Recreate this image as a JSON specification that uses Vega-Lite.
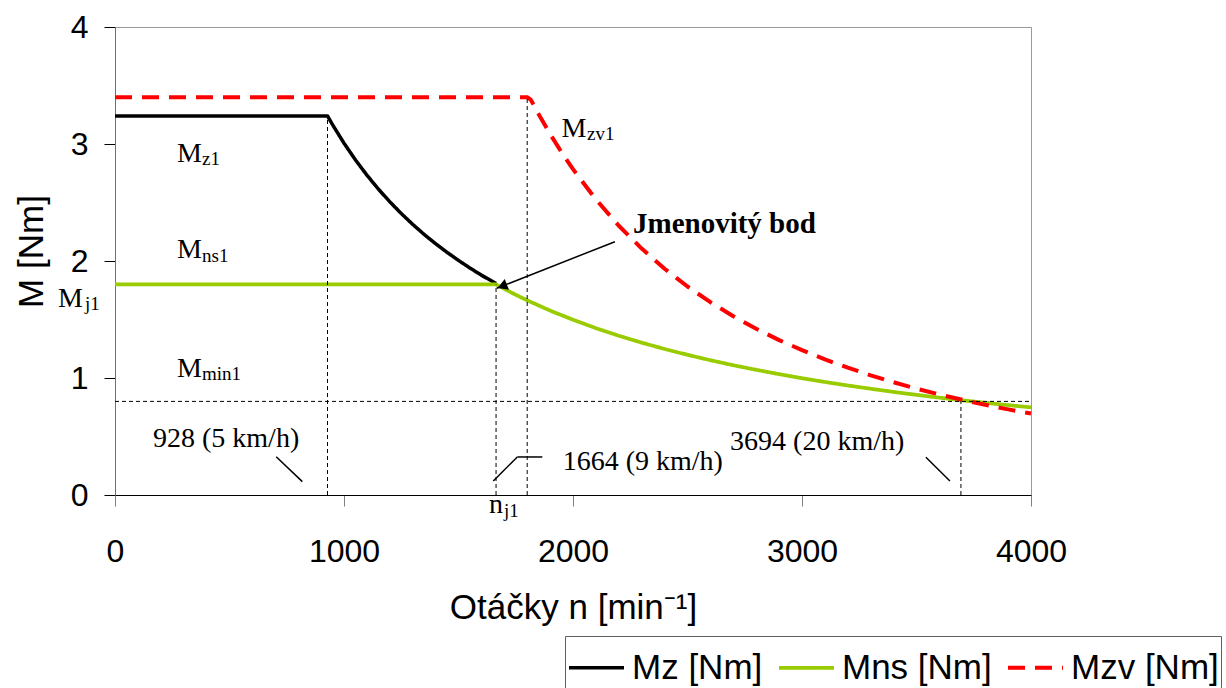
{
  "$schema": "https://vega.github.io/schema/vega-lite/v6.json",
  "width": 916,
  "height": 468,
  "autosize": {"type": "none"},
  "padding": {"left": 115, "top": 27, "right": 195, "bottom": 193},
  "background": "white",
  "config": {
    "view": {"stroke": "#9a9a9a", "strokeWidth": 1},
    "axis": {"grid": false},
    "axisX": {
      "tickCount": 5,
      "format": "d",
      "labelFont": "Liberation Sans",
      "labelFontSize": 32,
      "labelColor": "black",
      "labelBaseline": "alphabetic",
      "labelPadding": 55,
      "labelFlush": false,
      "labelOverlap": false,
      "tickSize": 11,
      "tickColor": "#808080",
      "domainColor": "black",
      "titleFont": "Liberation Sans",
      "titleFontSize": 35,
      "titleFontWeight": "normal",
      "titleColor": "black",
      "titleBaseline": "alphabetic",
      "titleX": 458,
      "titleY": 123
    },
    "axisY": {
      "tickCount": 5,
      "format": "d",
      "labelFont": "Liberation Sans",
      "labelFontSize": 32,
      "labelColor": "black",
      "labelPadding": 16,
      "labelFlush": false,
      "tickSize": 11,
      "tickColor": "black",
      "domainColor": "#707070",
      "titleFont": "Liberation Sans",
      "titleFontSize": 35,
      "titleFontWeight": "normal",
      "titleColor": "black",
      "titleBaseline": "middle",
      "titleAlign": "center",
      "titleX": -84,
      "titleY": 224
    }
  },
  "datasets": {
    "curves": [
      {"series": "Mz [Nm]", "n": 0, "M": 3.24},
      {"series": "Mz [Nm]", "n": 928, "M": 3.24},
      {"series": "Mz [Nm]", "n": 950, "M": 3.165},
      {"series": "Mz [Nm]", "n": 1000, "M": 3.007},
      {"series": "Mz [Nm]", "n": 1050, "M": 2.864},
      {"series": "Mz [Nm]", "n": 1100, "M": 2.734},
      {"series": "Mz [Nm]", "n": 1150, "M": 2.615},
      {"series": "Mz [Nm]", "n": 1200, "M": 2.506},
      {"series": "Mz [Nm]", "n": 1250, "M": 2.406},
      {"series": "Mz [Nm]", "n": 1300, "M": 2.313},
      {"series": "Mz [Nm]", "n": 1350, "M": 2.227},
      {"series": "Mz [Nm]", "n": 1400, "M": 2.148},
      {"series": "Mz [Nm]", "n": 1450, "M": 2.074},
      {"series": "Mz [Nm]", "n": 1500, "M": 2.005},
      {"series": "Mz [Nm]", "n": 1550, "M": 1.940},
      {"series": "Mz [Nm]", "n": 1600, "M": 1.879},
      {"series": "Mz [Nm]", "n": 1664, "M": 1.807},
      {"series": "Mns [Nm]", "n": 0, "M": 1.8},
      {"series": "Mns [Nm]", "n": 1664, "M": 1.8},
      {"series": "Mns [Nm]", "n": 1700, "M": 1.762},
      {"series": "Mns [Nm]", "n": 1750, "M": 1.711},
      {"series": "Mns [Nm]", "n": 1800, "M": 1.664},
      {"series": "Mns [Nm]", "n": 1900, "M": 1.576},
      {"series": "Mns [Nm]", "n": 2000, "M": 1.498},
      {"series": "Mns [Nm]", "n": 2100, "M": 1.426},
      {"series": "Mns [Nm]", "n": 2200, "M": 1.361},
      {"series": "Mns [Nm]", "n": 2300, "M": 1.302},
      {"series": "Mns [Nm]", "n": 2400, "M": 1.248},
      {"series": "Mns [Nm]", "n": 2500, "M": 1.198},
      {"series": "Mns [Nm]", "n": 2600, "M": 1.152},
      {"series": "Mns [Nm]", "n": 2700, "M": 1.109},
      {"series": "Mns [Nm]", "n": 2800, "M": 1.070},
      {"series": "Mns [Nm]", "n": 2900, "M": 1.033},
      {"series": "Mns [Nm]", "n": 3000, "M": 0.998},
      {"series": "Mns [Nm]", "n": 3100, "M": 0.966},
      {"series": "Mns [Nm]", "n": 3200, "M": 0.936},
      {"series": "Mns [Nm]", "n": 3300, "M": 0.908},
      {"series": "Mns [Nm]", "n": 3400, "M": 0.881},
      {"series": "Mns [Nm]", "n": 3500, "M": 0.856},
      {"series": "Mns [Nm]", "n": 3600, "M": 0.832},
      {"series": "Mns [Nm]", "n": 3700, "M": 0.809},
      {"series": "Mns [Nm]", "n": 3800, "M": 0.788},
      {"series": "Mns [Nm]", "n": 3900, "M": 0.768},
      {"series": "Mns [Nm]", "n": 4000, "M": 0.749},
      {"series": "Mzv [Nm]", "n": 0, "M": 3.4},
      {"series": "Mzv [Nm]", "n": 1800, "M": 3.4},
      {"series": "Mzv [Nm]", "n": 1815, "M": 3.38},
      {"series": "Mzv [Nm]", "n": 1830, "M": 3.33},
      {"series": "Mzv [Nm]", "n": 1850, "M": 3.255},
      {"series": "Mzv [Nm]", "n": 1900, "M": 3.086},
      {"series": "Mzv [Nm]", "n": 1950, "M": 2.929},
      {"series": "Mzv [Nm]", "n": 2000, "M": 2.785},
      {"series": "Mzv [Nm]", "n": 2100, "M": 2.526},
      {"series": "Mzv [Nm]", "n": 2200, "M": 2.301},
      {"series": "Mzv [Nm]", "n": 2300, "M": 2.106},
      {"series": "Mzv [Nm]", "n": 2400, "M": 1.934},
      {"series": "Mzv [Nm]", "n": 2500, "M": 1.782},
      {"series": "Mzv [Nm]", "n": 2600, "M": 1.648},
      {"series": "Mzv [Nm]", "n": 2700, "M": 1.528},
      {"series": "Mzv [Nm]", "n": 2800, "M": 1.421},
      {"series": "Mzv [Nm]", "n": 2900, "M": 1.324},
      {"series": "Mzv [Nm]", "n": 3000, "M": 1.238},
      {"series": "Mzv [Nm]", "n": 3100, "M": 1.159},
      {"series": "Mzv [Nm]", "n": 3200, "M": 1.088},
      {"series": "Mzv [Nm]", "n": 3300, "M": 1.023},
      {"series": "Mzv [Nm]", "n": 3400, "M": 0.964},
      {"series": "Mzv [Nm]", "n": 3500, "M": 0.909},
      {"series": "Mzv [Nm]", "n": 3600, "M": 0.859},
      {"series": "Mzv [Nm]", "n": 3700, "M": 0.814},
      {"series": "Mzv [Nm]", "n": 3800, "M": 0.771},
      {"series": "Mzv [Nm]", "n": 3900, "M": 0.732},
      {"series": "Mzv [Nm]", "n": 4000, "M": 0.696}
    ],
    "guides": [
      {"n": 928, "M": 0, "n2": 928, "M2": 3.24},
      {"n": 1664, "M": 0, "n2": 1664, "M2": 1.8},
      {"n": 1800, "M": 0, "n2": 1800, "M2": 3.4},
      {"n": 3694, "M": 0, "n2": 3694, "M2": 0.8},
      {"n": 0, "M": 0.8, "n2": 4000, "M2": 0.8}
    ],
    "pointers": [
      {"n": 704, "M": 0.327, "n2": 818, "M2": 0.114},
      {"n": 1652, "M": 0.12, "n2": 1757, "M2": 0.325},
      {"n": 1757, "M": 0.325, "n2": 1866, "M2": 0.325},
      {"n": 3541, "M": 0.322, "n2": 3646, "M2": 0.12},
      {"n": 2183, "M": 2.165, "n2": 1667, "M2": 1.767}
    ],
    "arrowhead": [
      {"n": 1691, "M": 1.785}
    ],
    "labels": [
      {"n": 271, "M": 2.846, "label": "M"},
      {"n": 271, "M": 2.023, "label": "M"},
      {"n": -249, "M": 1.604, "label": "M"},
      {"n": 271, "M": 1.011, "label": "M"},
      {"n": 1950, "M": 3.057, "label": "M"},
      {"n": 1633, "M": -0.154, "label": "n"},
      {"n": 166, "M": 0.413, "label": "928 (5 km/h)"},
      {"n": 1955, "M": 0.214, "label": "1664 (9 km/h)"},
      {"n": 2686, "M": 0.385, "label": "3694 (20 km/h)"}
    ],
    "subscripts": [
      {"n": 380, "M": 2.821, "label": "z1"},
      {"n": 380, "M": 1.991, "label": "ns1"},
      {"n": -131, "M": 1.581, "label": "j1"},
      {"n": 380, "M": 0.983, "label": "min1"},
      {"n": 2061, "M": 3.030, "label": "zv1"},
      {"n": 1699, "M": -0.188, "label": "j1"}
    ],
    "callout": [
      {"n": 2262, "M": 2.237, "label": "Jmenovitý bod"}
    ]
  },
  "layer": [
    {
      "data": {"name": "curves"},
      "mark": {"type": "line", "strokeCap": "butt", "strokeJoin": "round"},
      "encoding": {
        "x": {
          "field": "n",
          "type": "quantitative",
          "title": "Otáčky n [min⁻¹]",
          "scale": {"domain": [0, 4000], "nice": false, "zero": true}
        },
        "y": {
          "field": "M",
          "type": "quantitative",
          "title": "M [Nm]",
          "scale": {"domain": [0, 4], "nice": false}
        },
        "color": {
          "field": "series",
          "type": "nominal",
          "scale": {"domain": ["Mz [Nm]", "Mns [Nm]", "Mzv [Nm]"], "range": ["#000000", "#99CC00", "#FF0000"]},
          "legend": {
            "title": null,
            "orient": "none",
            "legendX": 450,
            "legendY": 609,
            "direction": "horizontal",
            "strokeColor": "#606060",
            "fillColor": "white",
            "padding": 2,
            "symbolType": "stroke",
            "symbolSize": 3025,
            "symbolStrokeWidth": 3,
            "labelFont": "Liberation Sans",
            "labelFontSize": 35,
            "labelColor": "black",
            "labelOffset": 6,
            "labelLimit": 0,
            "columnPadding": 8
          }
        },
        "strokeDash": {
          "field": "series",
          "type": "nominal",
          "scale": {"domain": ["Mz [Nm]", "Mns [Nm]", "Mzv [Nm]"], "range": [[1, 0], [1, 0], [17, 10]]},
          "legend": {
            "title": null,
            "orient": "none",
            "legendX": 450,
            "legendY": 609,
            "direction": "horizontal",
            "strokeColor": "#606060",
            "fillColor": "white",
            "padding": 2,
            "symbolType": "stroke",
            "symbolSize": 3025,
            "symbolStrokeWidth": 3,
            "labelFont": "Liberation Sans",
            "labelFontSize": 35,
            "labelColor": "black",
            "labelOffset": 6,
            "labelLimit": 0,
            "columnPadding": 8
          }
        },
        "strokeWidth": {
          "field": "series",
          "type": "nominal",
          "scale": {"domain": ["Mz [Nm]", "Mns [Nm]", "Mzv [Nm]"], "range": [3.5, 4, 3]},
          "legend": null
        }
      }
    },
    {
      "data": {"name": "guides"},
      "mark": {"type": "rule", "color": "black", "strokeWidth": 1, "strokeDash": [4, 3]},
      "encoding": {
        "x": {"field": "n", "type": "quantitative", "title": "Otáčky n [min⁻¹]"},
        "x2": {"field": "n2"},
        "y": {"field": "M", "type": "quantitative", "title": "M [Nm]"},
        "y2": {"field": "M2"}
      }
    },
    {
      "data": {"name": "pointers"},
      "mark": {"type": "rule", "color": "black", "strokeWidth": 1.5},
      "encoding": {
        "x": {"field": "n", "type": "quantitative", "title": "Otáčky n [min⁻¹]"},
        "x2": {"field": "n2"},
        "y": {"field": "M", "type": "quantitative", "title": "M [Nm]"},
        "y2": {"field": "M2"}
      }
    },
    {
      "data": {"name": "arrowhead"},
      "mark": {"type": "point", "shape": "triangle-up", "filled": true, "color": "black", "opacity": 1, "size": 130, "angle": 248.5},
      "encoding": {
        "x": {"field": "n", "type": "quantitative", "title": "Otáčky n [min⁻¹]"},
        "y": {"field": "M", "type": "quantitative", "title": "M [Nm]"}
      }
    },
    {
      "data": {"name": "labels"},
      "mark": {"type": "text", "align": "left", "baseline": "alphabetic", "font": "Liberation Serif", "fontSize": 28, "color": "black"},
      "encoding": {
        "x": {"field": "n", "type": "quantitative", "title": "Otáčky n [min⁻¹]"},
        "y": {"field": "M", "type": "quantitative", "title": "M [Nm]"},
        "text": {"field": "label"}
      }
    },
    {
      "data": {"name": "subscripts"},
      "mark": {"type": "text", "align": "left", "baseline": "alphabetic", "font": "Liberation Serif", "fontSize": 19, "color": "black"},
      "encoding": {
        "x": {"field": "n", "type": "quantitative", "title": "Otáčky n [min⁻¹]"},
        "y": {"field": "M", "type": "quantitative", "title": "M [Nm]"},
        "text": {"field": "label"}
      }
    },
    {
      "data": {"name": "callout"},
      "mark": {"type": "text", "align": "left", "baseline": "alphabetic", "font": "Liberation Serif", "fontSize": 29, "fontWeight": "bold", "color": "black"},
      "encoding": {
        "x": {"field": "n", "type": "quantitative", "title": "Otáčky n [min⁻¹]"},
        "y": {"field": "M", "type": "quantitative", "title": "M [Nm]"},
        "text": {"field": "label"}
      }
    }
  ]
}
